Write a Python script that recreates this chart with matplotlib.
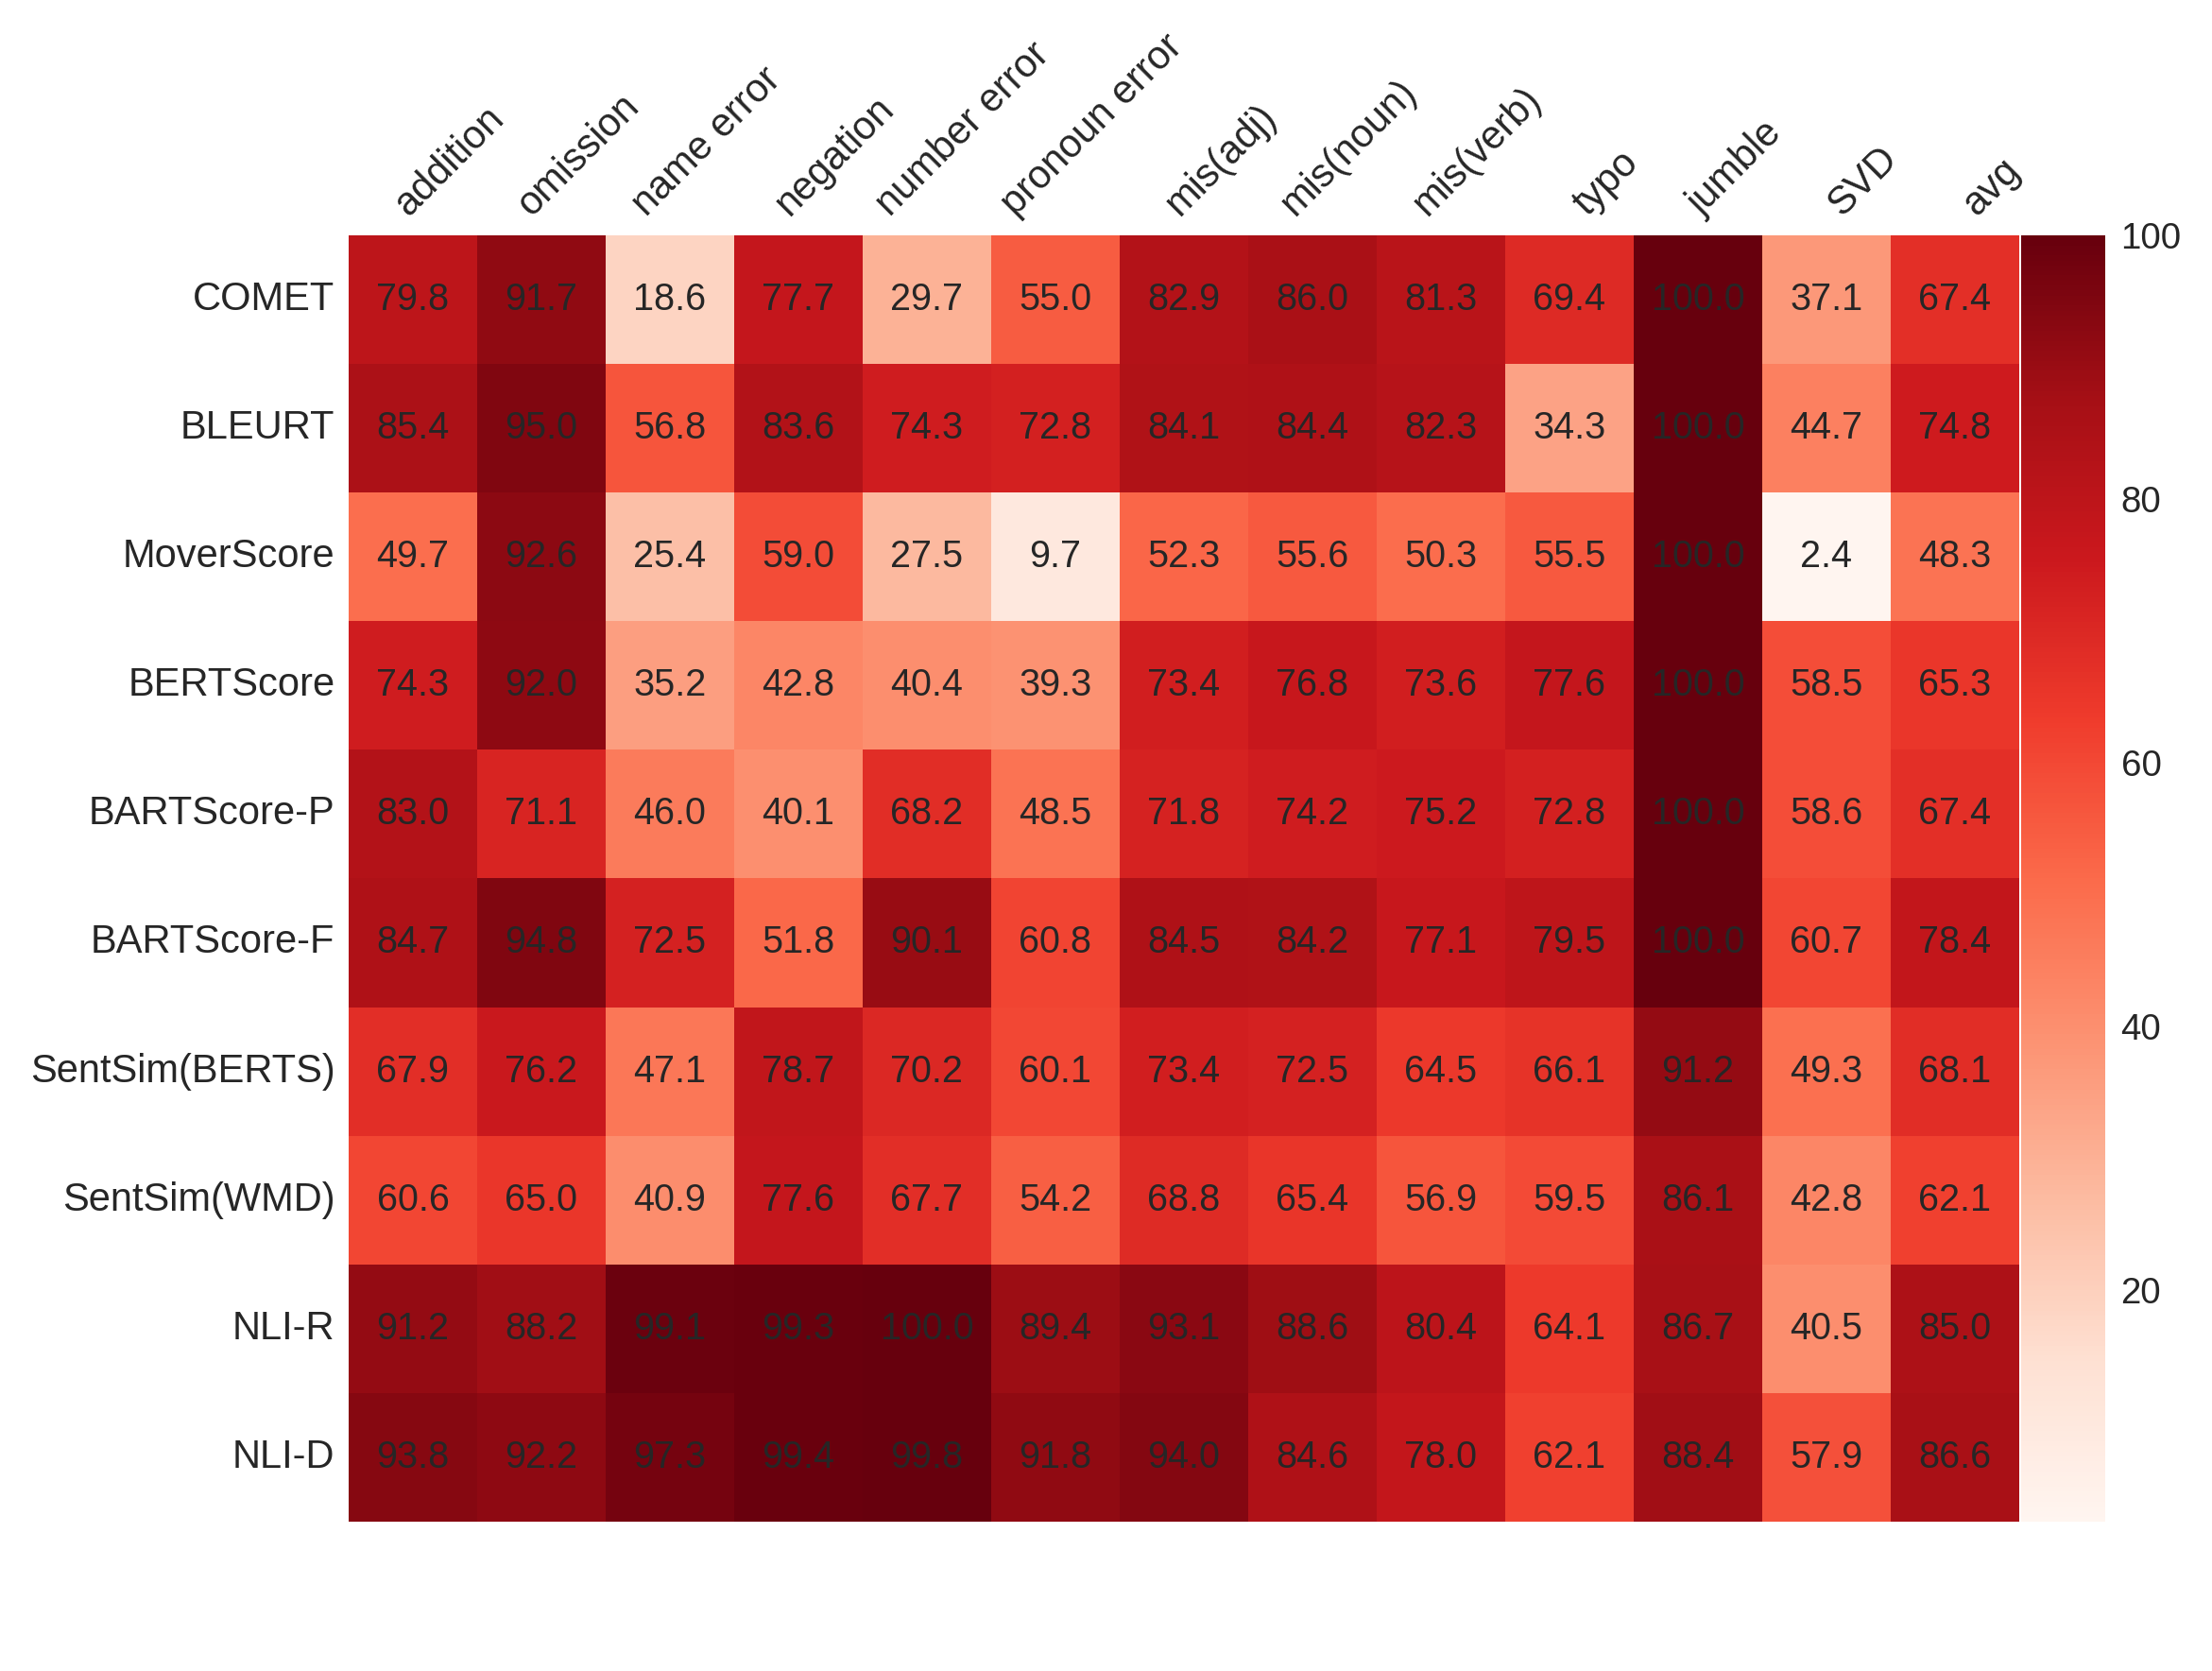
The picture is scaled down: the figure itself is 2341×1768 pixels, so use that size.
import matplotlib
matplotlib.use("Agg")
import matplotlib.pyplot as plt
import matplotlib.transforms as mtransforms
import numpy as np
import seaborn as sns

metrics = ["COMET", "BLEURT", "MoverScore", "BERTScore", "BARTScore-P",
           "BARTScore-F", "SentSim(BERTS)", "SentSim(WMD)", "NLI-R", "NLI-D"]
error_types = ["addition", "omission", "name error", "negation", "number error",
               "pronoun error", "mis(adj)", "mis(noun)", "mis(verb)", "typo",
               "jumble", "SVD", "avg"]

comet        = [79.8, 91.7, 18.6, 77.7, 29.7, 55.0, 82.9, 86.0, 81.3, 69.4, 100.0, 37.1, 67.4]
bleurt       = [85.4, 95.0, 56.8, 83.6, 74.3, 72.8, 84.1, 84.4, 82.3, 34.3, 100.0, 44.7, 74.8]
moverscore   = [49.7, 92.6, 25.4, 59.0, 27.5, 9.7, 52.3, 55.6, 50.3, 55.5, 100.0, 2.4, 48.3]
bertscore    = [74.3, 92.0, 35.2, 42.8, 40.4, 39.3, 73.4, 76.8, 73.6, 77.6, 100.0, 58.5, 65.3]
bartscore_p  = [83.0, 71.1, 46.0, 40.1, 68.2, 48.5, 71.8, 74.2, 75.2, 72.8, 100.0, 58.6, 67.4]
bartscore_f  = [84.7, 94.8, 72.5, 51.8, 90.1, 60.8, 84.5, 84.2, 77.1, 79.5, 100.0, 60.7, 78.4]
sentsim_bert = [67.9, 76.2, 47.1, 78.7, 70.2, 60.1, 73.4, 72.5, 64.5, 66.1, 91.2, 49.3, 68.1]
sentsim_wmd  = [60.6, 65.0, 40.9, 77.6, 67.7, 54.2, 68.8, 65.4, 56.9, 59.5, 86.1, 42.8, 62.1]
nli_r        = [91.2, 88.2, 99.1, 99.3, 100.0, 89.4, 93.1, 88.6, 80.4, 64.1, 86.7, 40.5, 85.0]
nli_d        = [93.8, 92.2, 97.3, 99.4, 99.8, 91.8, 94.0, 84.6, 78.0, 62.1, 88.4, 57.9, 86.6]

data = np.array([comet, bleurt, moverscore, bertscore, bartscore_p,
                 bartscore_f, sentsim_bert, sentsim_wmd, nli_r, nli_d])

sns.set_style("white")
plt.rcParams["font.family"] = ["Liberation Sans", "DejaVu Sans"]
text_color = "#262626"

DPI = 150
fig = plt.figure(figsize=(2341 / DPI, 1768 / DPI), dpi=DPI)
ax = fig.add_axes([0.1576, 0.0894, 0.7552, 0.7698])
cax = fig.add_axes([0.9137, 0.0894, 0.0380, 0.7698])

sns.heatmap(data, ax=ax, cbar_ax=cax, cmap="Reds", annot=True, fmt=".1f",
            annot_kws={"size": 19, "color": text_color},
            xticklabels=error_types, yticklabels=metrics)

ax.xaxis.tick_top()
ax.tick_params(axis="both", length=0, labelsize=20, colors=text_color)
ax.tick_params(axis="x", pad=6)
ax.tick_params(axis="y", pad=7)
shift = mtransforms.ScaledTranslation(39 / DPI, 0, fig.dpi_scale_trans)
for lbl in ax.get_xticklabels():
    lbl.set_rotation(45)
    lbl.set_ha("center")
    lbl.set_transform(lbl.get_transform() + shift)
plt.setp(ax.get_yticklabels(), rotation=0)

cax.tick_params(length=0, labelsize=18.5, colors=text_color, pad=8)
for s in cax.spines.values():
    s.set_visible(False)

fig.savefig("out.png", dpi=DPI)
